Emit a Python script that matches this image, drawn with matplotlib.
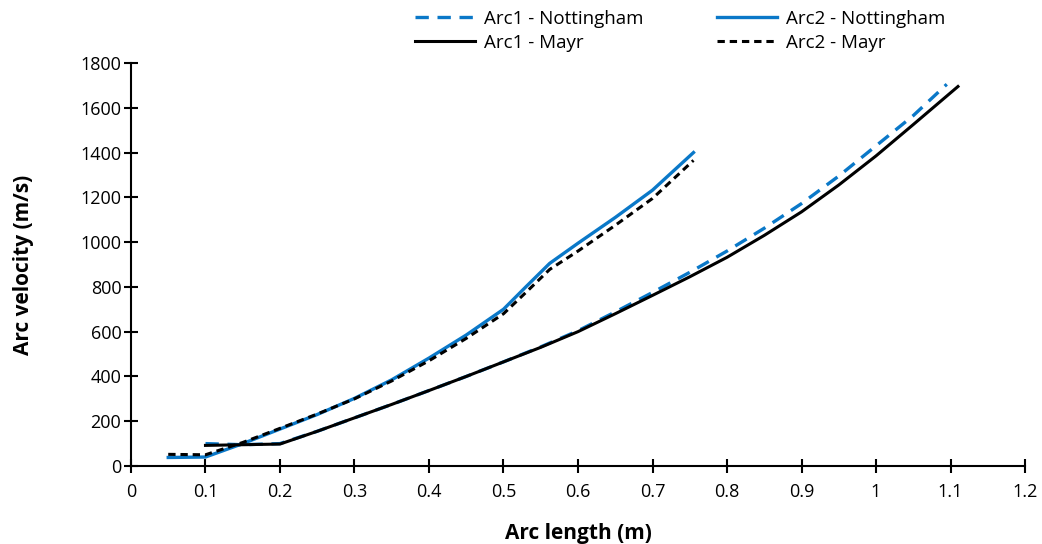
import matplotlib.pyplot as plt

# arc velocity vs arc length, two arcs, two models
arc1_nott_len = [0.10, 0.15, 0.20, 0.25, 0.30, 0.35, 0.40, 0.45, 0.50, 0.55, 0.60, 0.65, 0.70,
                 0.75, 0.80, 0.85, 0.90, 0.95, 1.00, 1.05, 1.095]
arc1_nott_vel = [100, 95, 100, 155, 215, 275, 337, 400, 465, 532, 604, 688, 775,
                 865, 960, 1062, 1172, 1295, 1430, 1565, 1705]

arc1_mayr_len = [0.10, 0.20, 0.25, 0.30, 0.35, 0.40, 0.45, 0.50, 0.55, 0.60, 0.65, 0.70,
                 0.75, 0.80, 0.85, 0.90, 0.95, 1.00, 1.05, 1.11]
arc1_mayr_vel = [92, 98, 155, 215, 275, 337, 400, 465, 530, 600, 680, 762,
                 845, 932, 1030, 1135, 1255, 1385, 1525, 1695]

arc2_nott_len = [0.05, 0.10, 0.15, 0.20, 0.25, 0.30, 0.35, 0.40, 0.45, 0.50, 0.53, 0.562,
                 0.60, 0.65, 0.70, 0.755]
arc2_nott_vel = [38, 40, 100, 165, 230, 302, 385, 482, 585, 700, 800, 905,
                 995, 1110, 1232, 1400]

arc2_mayr_len = [0.05, 0.10, 0.15, 0.20, 0.25, 0.30, 0.35, 0.40, 0.45, 0.50, 0.53, 0.562,
                 0.60, 0.65, 0.70, 0.755]
arc2_mayr_vel = [52, 50, 105, 168, 232, 300, 380, 470, 570, 680, 775, 878,
                 960, 1075, 1195, 1365]

x_ticks = [0, 0.1, 0.2, 0.3, 0.4, 0.5, 0.6, 0.7, 0.8, 0.9, 1.0, 1.1, 1.2]
x_tick_labels = ["0", "0.1", "0.2", "0.3", "0.4", "0.5", "0.6", "0.7", "0.8", "0.9", "1", "1.1", "1.2"]
y_ticks = list(range(0, 1801, 200))

blue = "#0a78c8"
plt.rcParams["font.family"] = ["Open Sans", "DejaVu Sans"]

fig = plt.figure(figsize=(10.42, 5.44), dpi=100)
ax = fig.add_axes([0.1257, 0.1434, 0.858, 0.7408])

l1, = ax.plot(arc1_nott_len, arc1_nott_vel, color=blue, lw=2.4, dashes=(4, 2.6), label="Arc1 - Nottingham")
l2, = ax.plot(arc2_nott_len, arc2_nott_vel, color=blue, lw=2.4, label="Arc2 - Nottingham")
l3, = ax.plot(arc1_mayr_len, arc1_mayr_vel, color="black", lw=2.2, label="Arc1 - Mayr")
l4, = ax.plot(arc2_mayr_len, arc2_mayr_vel, color="black", lw=2.2, dashes=(2.4, 1.6), label="Arc2 - Mayr")

ax.set_xlim(0, 1.2)
ax.set_ylim(0, 1800)
ax.set_xticks(x_ticks)
ax.set_xticklabels(x_tick_labels)
ax.set_yticks(y_ticks)

for side in ["top", "right"]:
    ax.spines[side].set_visible(False)
for side in ["left", "bottom"]:
    ax.spines[side].set_linewidth(1.5)
    ax.spines[side].set_color("black")
ax.tick_params(direction="inout", length=10, width=1.5, labelsize=13)
ax.tick_params(axis="y", pad=2)
ax.tick_params(axis="x", pad=7)

ax.set_xlabel("Arc length (m)", fontsize=15, fontweight="bold", labelpad=16)
ax.set_ylabel("Arc velocity (m/s)", fontsize=15, fontweight="bold", labelpad=33)

fig.legend(handles=[l1, l3, l2, l4], ncol=2, loc="upper left", bbox_to_anchor=(0.398, 0.982),
           frameon=False, fontsize=13.5, handlelength=3.2, columnspacing=3.9,
           handletextpad=0.5, labelspacing=0.32, borderpad=0, borderaxespad=0)

fig.savefig("out.png", dpi=100)
